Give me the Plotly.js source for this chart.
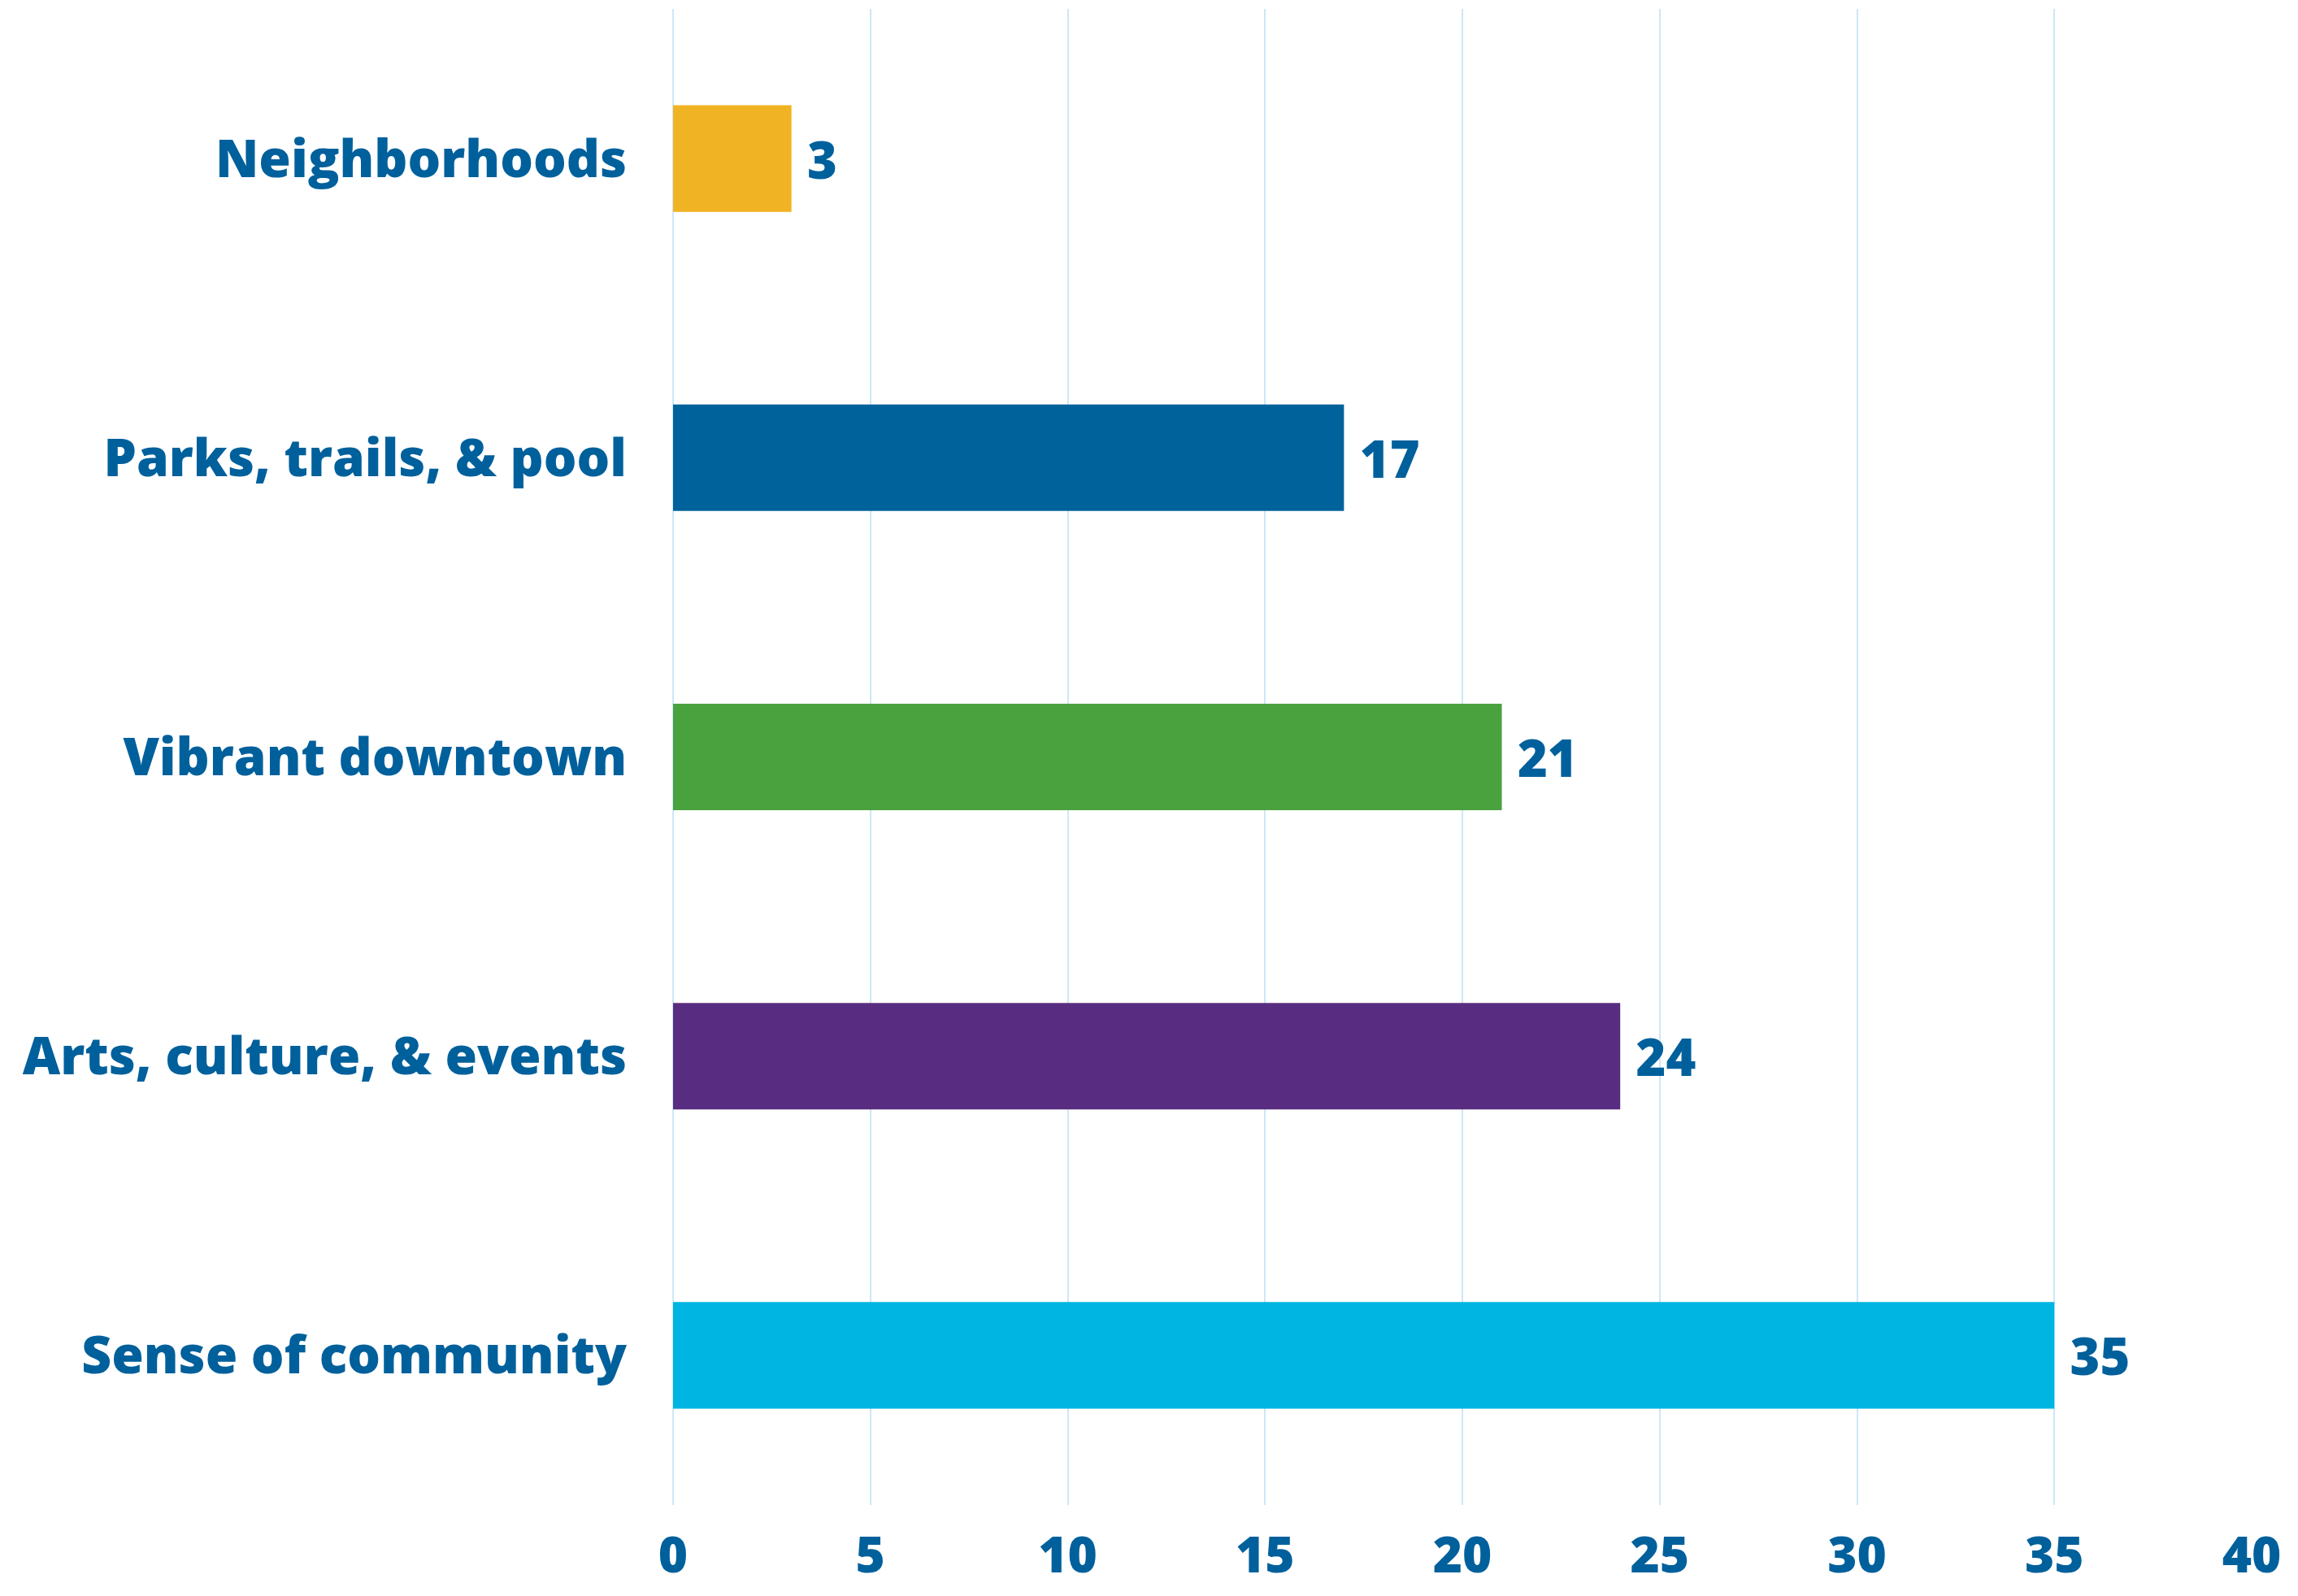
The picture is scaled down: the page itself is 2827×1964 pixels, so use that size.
<!DOCTYPE html>
<html>
<head>
<meta charset="utf-8">
<script src="https://cdn.plot.ly/plotly-3.0.1.min.js"></script>
<style>html,body{margin:0;padding:0;background:#fff;}#chart{width:2827px;height:1964px;}</style>
</head>
<body>
<div id="chart"></div>
<script>
const categories = ["Neighborhoods", "Parks, trails, & pool", "Vibrant downtown", "Arts, culture, & events", "Sense of community"];
const values = [3, 17, 21, 24, 35];
const barColors = ["#F0B323", "#00629B", "#4AA23F", "#582D81", "#00B5E2"];
const xTickValues = [0, 5, 10, 15, 20, 25, 30, 35, 40];

const textColor = "#00609C";
const fontFamily = "Open Sans, Lato, sans-serif";

const trace = {
  type: "bar",
  orientation: "h",
  y: categories,
  x: values,
  marker: { color: barColors, line: { width: 0 } },
  texttemplate: "\u00A0%{x}",
  textposition: "outside",
  cliponaxis: false,
  textfont: { family: fontFamily, size: 63, color: textColor, weight: 800 },
  hoverinfo: "skip"
};

const layout = {
  width: 2827,
  height: 1964,
  margin: { l: 828, r: 57, t: 11, b: 112, pad: 0 },
  paper_bgcolor: "#ffffff",
  plot_bgcolor: "#ffffff",
  showlegend: false,
  bargap: 0.644,
  font: { family: fontFamily, color: textColor },
  xaxis: {
    range: [0, 40],
    tickvals: xTickValues,
    ticktext: xTickValues.map(String),
    showgrid: true,
    gridcolor: "#CDE7F8",
    gridwidth: 2,
    zeroline: true,
    zerolinecolor: "#CDE7F8",
    zerolinewidth: 2,
    showline: false,
    ticks: "",
    ticklabelstandoff: 20,
    tickfont: { family: fontFamily, size: 62, color: textColor, weight: 800 },
    fixedrange: true
  },
  yaxis: {
    autorange: "reversed",
    showgrid: false,
    zeroline: false,
    showline: false,
    ticks: "",
    ticklabelstandoff: 56,
    tickfont: { family: fontFamily, size: 64, color: textColor, weight: 800 },
    fixedrange: true
  }
};

Plotly.newPlot("chart", [trace], layout, { staticPlot: true, displayModeBar: false });
</script>
</body>
</html>
